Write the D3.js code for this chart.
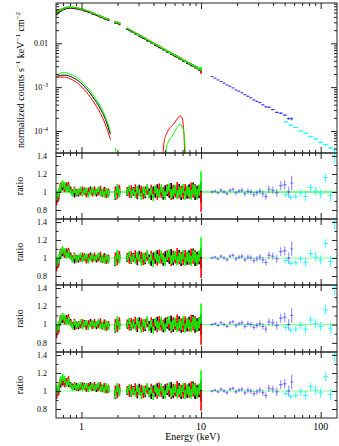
<!DOCTYPE html>
<html>
<head>
<meta charset="utf-8">
<script src="https://cdn.jsdelivr.net/npm/d3@7"></script>
<style>
  html, body { margin: 0; padding: 0; background: #fff; }
  svg { display: block; font-family: "Liberation Serif", "DejaVu Serif", serif; }
</style>
</head>
<body>
<svg id="chart"></svg>
<script>
// ---- tick labels ----
const xMajorTicks = [1, 10, 100];
const countTicks = [0.01, 0.001, 0.0001];
const ratioTicks = [0.8, 1, 1.2, 1.4];
const ratioMinorTicks = [0.9, 1.1, 1.3];

// ---- XMM bins (keV), shared by pn / MOS1 / MOS2 ----
const xmmE = [0.619,0.643,0.668,0.694,0.722,0.750,0.779,0.810,0.841,0.874,0.908,0.944,0.981,1.019,1.059,1.101,1.144,1.189,1.235,1.284,1.334,1.386,1.440,1.496,1.555,1.616,1.679,
  1.920,1.995,2.074,
  2.416,2.512,2.610,2.712,2.818,2.929,3.043,3.162,3.286,3.415,3.548,3.687,3.831,3.981,4.137,4.299,4.467,4.642,4.823,5.012,5.208,5.412,5.623,5.843,6.072,6.310,6.556,6.813,7.079,7.356,7.644,7.943,8.254,8.577,8.913,9.261,9.624,10.0];

const pnCounts = [0.0458,0.0505,0.0540,0.0580,0.0600,0.0626,0.0634,0.0642,0.0633,0.0631,0.0610,0.0608,0.0584,0.0578,0.0549,0.0539,0.0512,0.0499,0.0470,0.0458,0.0432,0.0421,0.0397,0.0387,0.0364,0.0355,0.0334,
  0.0292,0.0290,0.0270,
  0.0208,0.0199,0.0184,0.0178,0.0164,0.0158,0.0146,0.0140,0.0130,0.0125,0.0115,0.0111,0.0103,0.00987,0.00914,0.00878,0.00812,0.00781,0.00722,0.00694,0.00641,0.00617,0.00571,0.00549,0.00507,0.00488,0.00451,0.00435,0.00401,0.00387,0.00356,0.00344,0.00317,0.00306,0.00282,0.00272,0.00251,0.00240];
const mos1Counts = [0.0540,0.0570,0.0590,0.0612,0.0640,0.0650,0.0668,0.0660,0.0664,0.0650,0.0642,0.0625,0.0612,0.0594,0.0578,0.0555,0.0538,0.0514,0.0495,0.0472,0.0455,0.0433,0.0417,0.0398,0.0383,0.0364,0.0352,
  0.0305,0.0298,0.0285,
  0.0218,0.0207,0.0193,0.0184,0.0171,0.0164,0.0152,0.0146,0.0135,0.0130,0.0120,0.0116,0.0107,0.0103,0.00950,0.00912,0.00848,0.00810,0.00752,0.00720,0.00672,0.00640,0.00596,0.00568,0.00530,0.00506,0.00471,0.00451,0.00420,0.00400,0.00374,0.00356,0.00333,0.00316,0.00296,0.00282,0.00262,0.00228];
const mos2Counts = [0.0500,0.0545,0.0580,0.0605,0.0640,0.0655,0.0662,0.0670,0.0661,0.0655,0.0640,0.0632,0.0612,0.0600,0.0576,0.0560,0.0538,0.0518,0.0493,0.0476,0.0453,0.0437,0.0416,0.0402,0.0381,0.0368,0.0350,
  0.0300,0.0302,0.0283,
  0.0216,0.0206,0.0194,0.0182,0.0173,0.0162,0.0154,0.0144,0.0137,0.0128,0.0122,0.0114,0.0108,0.0101,0.00960,0.00900,0.00855,0.00800,0.00760,0.00712,0.00676,0.00634,0.00600,0.00562,0.00533,0.00502,0.00474,0.00446,0.00423,0.00397,0.00376,0.00352,0.00335,0.00314,0.00297,0.00279,0.00265,0.00262];
// relative 1-sigma errors per bin
const xmmErr = [0.05,0.05,0.045,0.04,0.04,0.035,0.035,0.03,0.03,0.03,0.03,0.03,0.03,0.03,0.03,0.03,0.03,0.03,0.03,0.03,0.03,0.03,0.03,0.035,0.035,0.035,0.04,
  0.05,0.05,0.05,
  0.035,0.035,0.035,0.035,0.035,0.04,0.04,0.04,0.04,0.04,0.04,0.04,0.04,0.04,0.045,0.045,0.045,0.045,0.045,0.045,0.045,0.045,0.05,0.05,0.05,0.05,0.05,0.05,0.05,0.05,0.055,0.055,0.055,0.055,0.06,0.06,0.06,0.11];

// data/model ratios
const ratioPn = [0.93,0.97,1.04,1.06,1.05,1.07,1.04,1.03,0.99,0.97,1.00,0.98,1.01,0.99,1.02,0.98,1.00,1.03,0.99,1.01,0.98,1.02,1.00,0.99,1.02,0.97,0.99,
  0.96,1.02,1.00,
  0.99,1.03,0.97,1.02,1.00,0.96,1.04,0.99,1.01,0.97,1.03,1.00,0.95,1.02,0.98,1.04,0.99,1.01,0.96,1.03,1.00,0.98,1.05,0.97,1.01,0.99,1.04,0.96,1.02,1.00,0.98,1.03,0.99,1.05,0.97,1.01,0.99,1.00];
const ratioM1 = [0.90,0.95,1.06,1.08,1.04,1.06,1.08,1.02,1.00,1.03,0.98,1.01,0.99,1.03,1.00,0.97,1.02,1.01,0.98,1.03,1.00,0.99,1.04,0.98,1.01,0.97,1.00,
  1.01,0.97,1.03,
  1.02,0.97,1.04,0.99,1.05,0.98,1.00,1.03,0.96,1.02,1.01,0.97,1.04,0.99,1.02,0.96,1.05,0.98,1.01,0.97,1.04,1.00,0.96,1.03,0.99,1.06,0.98,1.02,0.97,1.04,1.01,0.98,1.05,0.99,1.03,0.98,1.02,0.89];
const ratioM2 = [0.96,0.99,1.05,1.09,1.07,1.03,1.05,1.01,0.98,1.02,0.99,1.00,1.03,0.98,1.01,1.02,0.97,1.00,1.02,0.99,1.01,1.03,0.98,1.00,0.97,1.01,0.98,
  0.97,1.04,0.99,
  1.00,1.04,0.98,1.01,0.97,1.03,1.00,0.95,1.02,0.99,1.05,0.97,1.01,0.94,1.03,1.00,0.98,1.04,0.99,0.96,1.02,1.05,0.98,1.00,1.03,0.97,1.01,0.99,1.04,0.96,1.02,1.00,0.97,1.03,1.01,0.98,1.02,1.12];
// soft-band ratios of the last model (first 27 bins)
const excessPn = [0.98,1.02,1.08,1.10,1.09,1.11,1.08,1.07,1.05,1.04,1.06,1.03,1.05,1.04,1.06,1.03,1.05,1.07,1.03,1.05,1.02,1.06,1.04,1.03,1.05,1.01,1.02];
const excessM1 = [0.96,1.00,1.10,1.12,1.08,1.11,1.13,1.06,1.05,1.07,1.03,1.05,1.04,1.07,1.04,1.02,1.06,1.05,1.03,1.07,1.04,1.03,1.07,1.02,1.05,1.01,1.03];
const excessM2 = [1.01,1.04,1.12,1.15,1.13,1.08,1.10,1.06,1.03,1.06,1.04,1.05,1.07,1.03,1.05,1.06,1.02,1.04,1.06,1.03,1.05,1.07,1.02,1.04,1.01,1.05,1.02];

// ---- hard X-ray bins ----
const fpmE = [12.35,13.08,13.86,14.68,15.55,16.47,17.45,18.48,19.58,20.74,21.97,23.27,24.65,26.10,27.66,29.29,31.03,32.87,34.82,36.88,39.81,43.0,46.4,50.1,54.1,57.3];
const fpmCounts = [1.74e-3,1.61e-3,1.46e-3,1.35e-3,1.23e-3,1.12e-3,1.05e-3,9.6e-4,8.6e-4,8.1e-4,7.4e-4,6.7e-4,6.2e-4,5.7e-4,5.1e-4,4.75e-4,4.45e-4,3.95e-4,3.55e-4,3.5e-4,3.08e-4,2.66e-4,2.55e-4,2.3e-4,1.92e-4,1.9e-4];
const fpmRatio = [1.00,1.01,0.99,1.02,1.00,0.98,1.02,1.03,0.99,1.01,1.02,0.98,1.01,1.00,0.97,0.99,1.01,0.98,0.95,1.03,1.02,0.99,1.07,1.08,1.00,1.10];
const fpmErr = [0.015,0.015,0.015,0.02,0.02,0.02,0.02,0.02,0.025,0.025,0.025,0.025,0.03,0.03,0.03,0.03,0.035,0.035,0.035,0.04,0.04,0.045,0.05,0.05,0.06,0.08];

const batE = [51.1,56.2,61.9,68.1,75.0,82.5,90.9,100,110.1,121.2,130.8];
const batCounts = [1.62e-4,1.36e-4,1.2e-4,1.0e-4,8.9e-5,7.4e-5,6.6e-5,5.5e-5,4.85e-5,4.1e-5,3.7e-5];
const batRatio = [0.97,0.94,0.95,0.99,0.95,1.05,1.01,0.98,1.16,0.96,1.40];
const batErr = [0.03,0.03,0.03,0.04,0.05,0.04,0.05,0.05,0.05,0.06,0.08];

// ---- model components ----
const softE = [0.619,0.668,0.722,0.779,0.841,0.908,0.981,1.059,1.144,1.235,1.334,1.440,1.555,1.679,1.745];
const softPn = [1.743e-3,1.858e-3,1.888e-3,1.819e-3,1.671e-3,1.487e-3,1.268e-3,1.027e-3,8.10e-4,6.11e-4,4.52e-4,3.20e-4,2.10e-4,1.17e-4,8.53e-5];
const softM1 = [1.653e-3,1.698e-3,1.698e-3,1.610e-3,1.464e-3,1.282e-3,1.083e-3,8.62e-4,6.72e-4,5.02e-4,3.66e-4,2.53e-4,1.61e-4,8.99e-5,6.37e-5];
const softM2 = [1.838e-3,2.098e-3,2.154e-3,2.065e-3,1.907e-3,1.698e-3,1.448e-3,1.172e-3,9.24e-4,6.98e-4,5.16e-4,3.66e-4,2.39e-4,1.37e-4,9.74e-5];
const softTailE = [1.92, 1.95];
const softTailM2 = [4.2e-5, 2.8e-5];
const feE1 = [4.777,4.916,5.109,5.309,5.516,5.843,6.273,6.683,6.985,7.120,7.216,7.300];
const feM1 = [2.5e-5,5.89e-5,8.31e-5,1.027e-4,1.204e-4,1.411e-4,1.838e-4,2.212e-4,1.858e-4,1.191e-4,7.01e-5,2.5e-5];
const feE2 = [5.012,5.158,5.309,5.516,5.877,6.273,6.683,6.985,7.216,7.356,7.426];
const feM2 = [2.5e-5,4.52e-5,5.59e-5,6.72e-5,8.40e-5,1.191e-4,1.426e-4,1.191e-4,8.40e-5,4.13e-5,2.5e-5];

// ---------------- layout ----------------
const width = 339, height = 446;
const left = 56, right = 337;
const topPanel = { top: 3, bottom: 153 };
const ratioPanels = [
  { top: 153, bottom: 219, line: "#00ff00", soft: null },
  { top: 219, bottom: 285, line: "#8cff8c", soft: null },
  { top: 285, bottom: 352, line: "#8cff8c", soft: null },
  { top: 352, bottom: 418, line: "#8cff8c", soft: [excessPn, excessM1, excessM2] }
];
const BLACK = "#000000", RED = "#ff0000", GREEN = "#00ff00", BLUE = "#0000ff", CYAN = "#00ffff";

const svg = d3.select("#chart").attr("width", width).attr("height", height);

const x = d3.scaleLog().domain([0.612, 137]).range([left, right]);
const yCounts = d3.scaleLog().domain([3.15e-5, 0.083]).range([topPanel.bottom, topPanel.top]);

const isDecade = t => Math.abs(Math.log10(t) - Math.round(Math.log10(t))) < 1e-6;
const xMinorTicks = x.ticks().filter(t => !isDecade(t));
const countMinorTicks = yCounts.ticks().filter(t => !isDecade(t));

// bin edges in log space; a neighbour further than `gap` (ratio) starts a new group
function binEdges(E, gap) {
  return E.map((e, i) => {
    const prev = i > 0 && e / E[i - 1] < gap ? E[i - 1] : null;
    const next = i < E.length - 1 && E[i + 1] / e < gap ? E[i + 1] : null;
    const lo = prev ? Math.sqrt(prev * e) : (next ? e * Math.sqrt(e / next) : e / 1.02);
    const hi = next ? Math.sqrt(next * e) : (prev ? e * Math.sqrt(e / prev) : e * 1.02);
    return [lo, hi];
  });
}

function drawBins(g, E, vals, errs, gap, y, color, relative, opacity, barWidth) {
  const edges = binEdges(E, gap);
  const d = E.map((e, i) => [e, vals[i], relative ? vals[i] * errs[i] : errs[i]]);
  // horizontal bin widths
  g.append("path")
    .attr("fill", "none")
    .attr("stroke", color)
    .attr("stroke-width", 1)
    .attr("stroke-opacity", opacity || 1)
    .attr("d", d.map(([e, v], i) => `M${x(edges[i][0])},${y(v)}H${x(edges[i][1])}`).join(""));
  // vertical error bars
  g.append("path")
    .attr("fill", "none")
    .attr("stroke", color)
    .attr("stroke-width", barWidth || 1)
    .attr("stroke-opacity", opacity || 1)
    .attr("d", d.map(([e, v, err]) => `M${x(e)},${y(v - err)}V${y(v + err)}`).join(""));
}

function drawCurve(g, E, vals, y, color) {
  g.append("path")
    .datum(E.map((e, i) => [e, vals[i]]))
    .attr("fill", "none")
    .attr("stroke", color)
    .attr("stroke-width", 1)
    .attr("d", d3.line().x(d => x(d[0])).y(d => y(d[1])).curve(d3.curveMonotoneX));
}

function clipped(id, p) {
  svg.append("clipPath").attr("id", id).append("rect")
    .attr("x", left).attr("y", p.top).attr("width", right - left).attr("height", p.bottom - p.top);
  return svg.append("g").attr("clip-path", `url(#${id})`);
}

function tickSet(axis, values, size, transform) {
  svg.append("g")
    .attr("transform", transform)
    .call(axis.tickValues(values).tickSize(size).tickFormat(""))
    .call(g => g.select(".domain").remove())
    .call(g => g.selectAll("line").attr("stroke", "#222"));
}

function frame(p, y, yMajor, yMinor, majorLen, minorLen) {
  tickSet(d3.axisTop(x), xMajorTicks, -6, `translate(0,${p.top})`);
  tickSet(d3.axisTop(x), xMinorTicks, -3, `translate(0,${p.top})`);
  tickSet(d3.axisBottom(x), xMajorTicks, -6, `translate(0,${p.bottom})`);
  tickSet(d3.axisBottom(x), xMinorTicks, -3, `translate(0,${p.bottom})`);
  tickSet(d3.axisLeft(y), yMajor, -majorLen, `translate(${left},0)`);
  tickSet(d3.axisLeft(y), yMinor, -minorLen, `translate(${left},0)`);
  tickSet(d3.axisRight(y), yMajor, -majorLen, `translate(${right},0)`);
  tickSet(d3.axisRight(y), yMinor, -minorLen, `translate(${right},0)`);
  svg.append("rect")
    .attr("x", left).attr("y", p.top)
    .attr("width", right - left).attr("height", p.bottom - p.top)
    .attr("fill", "none").attr("stroke", "#222").attr("stroke-width", 1);
}

// ---------------- top panel: spectra ----------------
const gTop = clipped("clip-top", topPanel);
drawCurve(gTop, softE, softM1, yCounts, RED);
drawCurve(gTop, softE, softPn, yCounts, BLACK);
drawCurve(gTop, softE, softM2, yCounts, GREEN);
drawCurve(gTop, softTailE, softTailM2, yCounts, GREEN);
drawCurve(gTop, feE1, feM1, yCounts, RED);
drawCurve(gTop, feE2, feM2, yCounts, GREEN);

drawBins(gTop, xmmE, pnCounts, xmmErr, 1.06, yCounts, BLACK, true, 1, 1.6);
drawBins(gTop, xmmE, mos1Counts, xmmErr, 1.06, yCounts, RED, true, 1, 1.6);
drawBins(gTop, xmmE, mos2Counts, xmmErr, 1.06, yCounts, GREEN, true, 1, 1.6);
drawBins(gTop, fpmE, fpmCounts, fpmErr, 1.15, yCounts, BLUE, true, 0.75);
drawBins(gTop, batE, batCounts, batErr, 1.15, yCounts, CYAN, true);

frame(topPanel, yCounts, countTicks, countMinorTicks, 6, 3);

svg.append("g").selectAll("text")
  .data(countTicks)
  .join("text")
  .attr("x", 48)
  .attr("y", d => yCounts(d))
  .attr("dy", "0.35em")
  .attr("text-anchor", "end")
  .attr("font-size", 8)
  .each(function (d) {
    const t = d3.select(this);
    if (d === 0.01) { t.text("0.01"); return; }
    t.append("tspan").text("10");
    t.append("tspan").attr("dy", "-0.45em").attr("font-size", 5.5)
      .text("\u2212" + Math.round(-Math.log10(d)));
  });

const yTitle = svg.append("text")
  .attr("transform", `translate(24,${(topPanel.top + topPanel.bottom) / 2 + 2}) rotate(-90)`)
  .attr("text-anchor", "middle")
  .attr("font-size", 10);
yTitle.append("tspan").text("normalized counts s");
yTitle.append("tspan").attr("dy", -4).attr("font-size", 7).text("\u22121");
yTitle.append("tspan").attr("dy", 4).text(" keV");
yTitle.append("tspan").attr("dy", -4).attr("font-size", 7).text("\u22121");
yTitle.append("tspan").attr("dy", 4).text(" cm");
yTitle.append("tspan").attr("dy", -4).attr("font-size", 7).text("\u22122");

// ---------------- ratio panels ----------------
ratioPanels.forEach((p, k) => {
  const y = d3.scaleLinear().domain([0.7, 1.433]).range([p.bottom, p.top]);
  const g = clipped(`clip-r${k}`, p);

  g.append("line")
    .attr("x1", left).attr("x2", right)
    .attr("y1", y(1)).attr("y2", y(1))
    .attr("stroke", p.line).attr("stroke-width", 1.2);

  const pn = p.soft ? p.soft[0].concat(ratioPn.slice(p.soft[0].length)) : ratioPn;
  const m1 = p.soft ? p.soft[1].concat(ratioM1.slice(p.soft[1].length)) : ratioM1;
  const m2 = p.soft ? p.soft[2].concat(ratioM2.slice(p.soft[2].length)) : ratioM2;

  drawBins(g, xmmE, pn, xmmErr, 1.06, y, BLACK, false, 1, 1.6);
  drawBins(g, xmmE, m1, xmmErr, 1.06, y, RED, false, 1, 1.6);
  drawBins(g, xmmE, m2, xmmErr, 1.06, y, GREEN, false, 1, 1.6);
  drawBins(g, fpmE, fpmRatio, fpmErr, 1.15, y, BLUE, false, 0.5);
  drawBins(g, batE, batRatio, batErr, 1.15, y, CYAN, false, 0.8);

  frame(p, y, ratioTicks, ratioMinorTicks, 5, 2.5);

  svg.append("g").selectAll("text")
    .data(ratioTicks)
    .join("text")
    .attr("x", 47)
    .attr("y", d => y(d))
    .attr("dy", "0.35em")
    .attr("text-anchor", "end")
    .attr("font-size", 8)
    .text(d => d3.format("~g")(d));

  svg.append("text")
    .attr("transform", `translate(23,${(p.top + p.bottom) / 2}) rotate(-90)`)
    .attr("text-anchor", "middle")
    .attr("font-size", 10)
    .text("ratio");
});

// ---------------- energy axis labels ----------------
const last = ratioPanels[ratioPanels.length - 1];
svg.append("g").selectAll("text")
  .data(xMajorTicks)
  .join("text")
  .attr("x", d => x(d))
  .attr("y", last.bottom + 12)
  .attr("text-anchor", "middle")
  .attr("font-size", 10)
  .text(d => d);

svg.append("text")
  .attr("x", (left + right) / 2 - 4)
  .attr("y", 439.5)
  .attr("text-anchor", "middle")
  .attr("font-size", 10)
  .text("Energy (keV)");
</script>
</body>
</html>
